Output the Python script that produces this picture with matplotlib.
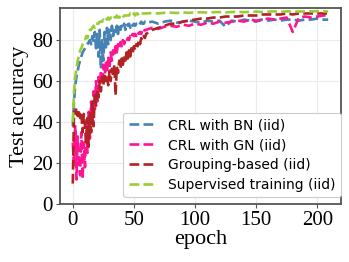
import matplotlib.pyplot as plt

# epochs: every epoch up to 59, then every 5 epochs
ep = list(range(0, 60)) + list(range(60, 210, 5)) + [209]

bn = [38, 50, 58, 62, 65, 68, 70, 72, 74, 75, 76, 77, 78, 79, 80, 78, 82, 79, 84, 76,
      83, 72, 85, 66, 80, 70, 84, 75, 86, 78, 85, 80, 87, 82, 86, 84, 87, 83, 88, 85,
      87, 86, 88, 85, 88, 87, 88, 86, 88, 87, 88, 87, 88, 88, 87, 88, 89, 88, 88, 89,
      88.5, 89, 88, 89, 89.5, 88.5, 89, 89.5, 89, 88.5, 89.5, 89, 89.5, 86.5, 89.5,
      89, 90, 89.5, 89, 90, 89.5, 90, 89.5, 90, 90, 89.5, 90, 90, 90.5, 90, 90]

gn = [30, 18, 38, 12, 33, 20, 14, 35, 12, 30, 18, 40, 25, 45, 32, 50, 38, 55, 45, 60,
      50, 62, 55, 65, 58, 68, 60, 70, 64, 72, 66, 74, 70, 75, 72, 77, 74, 78, 76, 79,
      77, 80, 78, 80, 79, 81, 80, 82, 81, 83, 82, 83, 82, 84, 83, 84, 83, 85, 84, 85,
      85, 86, 85.5, 86.5, 87, 86.5, 87.5, 87, 88, 87.5, 88.5, 88, 89, 88.5, 89, 89.5,
      89, 90, 89.5, 90, 90.5, 90, 90.5, 91, 84, 91, 91.5, 91, 91.5, 92, 92]

grp = [10, 45, 44, 47, 43, 46, 42, 45, 35, 44, 38, 30, 42, 28, 45, 35, 50, 38, 54, 48,
       56, 52, 60, 55, 62, 58, 64, 60, 63, 58, 65, 60, 66, 62, 68, 53, 67, 64, 70, 66,
       71, 68, 72, 70, 74, 71, 75, 72, 76, 74, 77, 75, 78, 77, 80, 78, 81, 80, 82, 81,
       83, 85, 86, 87, 88, 88, 89, 89.5, 90, 90.5, 90.5, 91, 91, 91.5, 91.5, 91.5,
       92, 92, 92, 92.5, 92.5, 92.5, 92.5, 93, 92.5, 93, 93, 93, 93, 93, 93]

sup = [40, 55, 62, 66, 70, 72, 75, 76, 78, 79, 80, 82, 81, 84, 85, 85, 86, 87, 86, 88,
       88, 88, 89, 89, 89, 90, 89, 90, 90, 91, 90, 91, 91, 90, 91, 91, 92, 91, 91, 92,
       92, 91, 92, 92, 92, 92, 92, 93, 92, 92, 93, 92, 93, 93, 92, 93, 93, 93, 93, 93,
       93, 93.2, 93, 93.3, 93.4, 93.2, 93.5, 93.3, 93.5, 93.6, 93.4, 93.6, 93.7, 93.5,
       93.7, 93.8, 93.6, 93.8, 93.9, 93.7, 93.9, 94, 93.8, 94, 94, 93.9, 94, 94, 94.1, 94, 94]

fig = plt.figure(figsize=(3.49, 2.62), dpi=100)
ax = fig.add_axes([0.172, 0.221, 0.805, 0.748])

ax.plot(ep, bn, '--', color='steelblue', lw=1.9, label='CRL with BN (iid)')
ax.plot(ep, gn, '--', color='deeppink', lw=1.9, label='CRL with GN (iid)')
ax.plot(ep, grp, '--', color='firebrick', lw=1.9, label='Grouping-based (iid)')
ax.plot(ep, sup, '--', color='yellowgreen', lw=1.9, label='Supervised training (iid)')

ax.set_ylim(0, 95.6)
ax.set_yticks([0, 20, 40, 60, 80])
ax.set_xticks([0, 50, 100, 150, 200])
ax.grid(True, color='#ebebeb', lw=0.8)
ax.set_axisbelow(True)
for s in ax.spines.values():
    s.set_color('#555555')
    s.set_linewidth(1.3)
ax.tick_params(length=3, color='#555555', labelsize=15, pad=2)
for t in ax.get_xticklabels() + ax.get_yticklabels():
    t.set_family('Liberation Serif')
ax.set_xlabel('epoch', family='Liberation Serif', fontsize=16, labelpad=0)
ax.set_ylabel('Test accuracy', family='Liberation Serif', fontsize=16, labelpad=2)

leg = ax.legend(loc='lower right', bbox_to_anchor=(1.0, 0.035), borderaxespad=0,
                fontsize=10, labelspacing=0.42, handlelength=2.0, framealpha=1,
                edgecolor='#cccccc')
leg.get_frame().set_linewidth(0.8)

plt.savefig('out.png')
